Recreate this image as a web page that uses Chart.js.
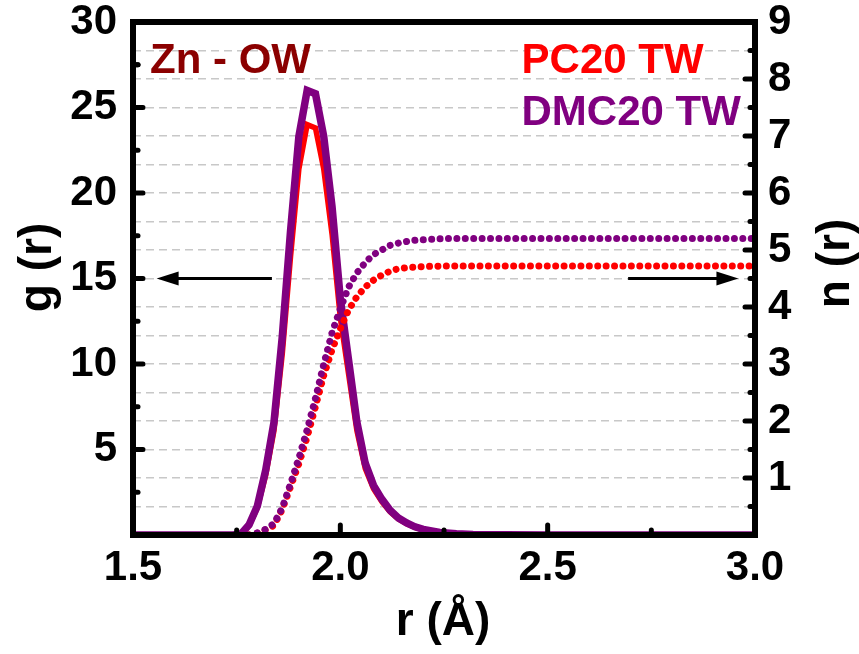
<!DOCTYPE html>
<html><head><meta charset="utf-8">
<script src="https://cdn.jsdelivr.net/npm/chart.js@4/dist/chart.umd.min.js"></script>
<style>html,body{margin:0;padding:0;background:#fff;}canvas{display:block;}</style>
</head><body>
<canvas id="c" width="859" height="654"></canvas>
<script>
// ---- data ----
const rG   = [1.50, 1.74, 1.76, 1.78, 1.80, 1.82, 1.84, 1.86, 1.88, 1.90, 1.92, 1.94, 1.96, 1.98, 2.00, 2.02, 2.04, 2.06, 2.08, 2.10, 2.12, 2.14, 2.16, 2.18, 2.20, 2.24, 2.28, 2.32, 2.40, 2.50, 3.00];
const gPC  = [0, 0, 0.04, 0.55, 1.6, 3.5, 6.1, 10.6, 16.3, 21.4, 24.0, 23.8, 21.4, 17.6, 12.7, 9.4, 6.1, 3.9, 2.7, 1.95, 1.35, 0.93, 0.65, 0.45, 0.30, 0.14, 0.06, 0.03, 0.01, 0, 0];
const gDMC = [0, 0, 0.05, 0.6, 1.7, 3.8, 6.6, 11.6, 17.8, 23.3, 26.0, 25.8, 23.3, 19.2, 13.8, 10.2, 6.6, 4.2, 2.9, 2.1, 1.45, 1.0, 0.70, 0.48, 0.33, 0.15, 0.07, 0.03, 0.01, 0, 0];
const rN   = [1.78, 1.80, 1.82, 1.84, 1.86, 1.88, 1.90, 1.92, 1.94, 1.96, 1.98, 2.00, 2.02, 2.04, 2.06, 2.08, 2.10, 2.12, 2.14, 2.16, 2.18, 2.20, 2.25, 2.30, 3.00];
const nPC  = [0, 0.03, 0.09, 0.17, 0.45, 0.85, 1.25, 1.72, 2.25, 2.8, 3.25, 3.62, 3.95, 4.18, 4.35, 4.47, 4.56, 4.63, 4.67, 4.69, 4.70, 4.71, 4.72, 4.72, 4.72];
const nDMC = [0, 0.04, 0.10, 0.20, 0.48, 0.9, 1.35, 1.85, 2.4, 3.0, 3.55, 3.97, 4.35, 4.6, 4.78, 4.92, 5.0, 5.08, 5.12, 5.15, 5.17, 5.18, 5.20, 5.20, 5.20];
const seriesNames = ['PC20 TW', 'DMC20 TW'];
const pairLabel = 'Zn - OW';
const xTicks = [1.5, 2.0, 2.5, 3.0];
const gTicks = [5, 10, 15, 20, 25, 30];
const nTicks = [1, 2, 3, 4, 5, 6, 7, 8, 9];
const xTitle = 'r (Å)';
const gTitle = 'g (r)';
const nTitle = 'n (r)';

// ---- styling ----
const FONT = "'Liberation Sans', Arial, sans-serif";
const RED = '#ff0000', PURPLE = '#800080', DARKRED = '#8b0000';
const pts = (xs, ys) => xs.map((x, i) => ({x: x, y: ys[i]}));
const half = arr => arr.map((v, i) => v - (i === 0 ? v : v - arr[i - 1]) / 2);

// annotation placement (data coordinates)
const arrows = [
  {axis: 'y',  value: 15,  from: 1.835, to: 1.557},
  {axis: 'y2', value: 4.5, from: 2.694, to: 2.96}
];
const labels = [
  {text: pairLabel,      color: DARKRED, x: 1.541, axis: 'y', y: 27.0},
  {text: seriesNames[0], color: RED,     x: 2.437, axis: 'y', y: 27.0},
  {text: seriesNames[1], color: PURPLE,  x: 2.437, axis: 'y', y: 23.97}
];

const overlay = {
  id: 'overlay',
  afterDatasetsDraw(chart) {
    const {ctx, chartArea: a, scales} = chart;
    const X = scales.x, Y = scales.y, Y2 = scales.y2;
    ctx.save();
    ctx.strokeStyle = '#000'; ctx.fillStyle = '#000';
    ctx.lineWidth = 6; ctx.lineJoin = 'miter';
    ctx.strokeRect(a.left, a.top, a.right - a.left, a.bottom - a.top);
    const seg = (x1, y1, x2, y2) => { ctx.beginPath(); ctx.moveTo(x1, y1); ctx.lineTo(x2, y2); ctx.stroke(); };
    ctx.lineWidth = 5; ctx.lineCap = 'round';
    const gMajor = gTicks.slice(0, -1), gMinor = half(gTicks).concat([gTicks[gTicks.length-1] - 2.5]);
    gMajor.forEach(v => { const y = Y.getPixelForValue(v); seg(a.left, y, a.left + 10, y); });
    gMinor.forEach(v => { const y = Y.getPixelForValue(v); seg(a.left, y, a.left + 5, y); });
    const nMajor = nTicks.slice(0, -1), nMinor = half(nTicks);
    nMajor.forEach(v => { const y = Y2.getPixelForValue(v); seg(a.right, y, a.right - 10, y); });
    nMinor.forEach(v => { const y = Y2.getPixelForValue(v); seg(a.right, y, a.right - 5, y); });
    const xMajor = xTicks.slice(1, -1);
    const xMinor = xTicks.slice(1).map((v, i) => (v + xTicks[i]) / 2);
    xMajor.forEach(v => { const x = X.getPixelForValue(v); seg(x, a.bottom, x, a.bottom - 10); });
    xMinor.forEach(v => { const x = X.getPixelForValue(v); seg(x, a.bottom, x, a.bottom - 5); });
    ctx.lineCap = 'butt'; ctx.lineWidth = 3;
    arrows.forEach(ar => {
      const y = scales[ar.axis].getPixelForValue(ar.value);
      const x1 = X.getPixelForValue(ar.from), x2 = X.getPixelForValue(ar.to);
      const d = Math.sign(x2 - x1), head = 22, hw = 7;
      seg(x1, y, x2 - d * head * 0.7, y);
      ctx.beginPath(); ctx.moveTo(x2, y); ctx.lineTo(x2 - d * head, y - hw); ctx.lineTo(x2 - d * head, y + hw); ctx.closePath(); ctx.fill();
    });
    ctx.font = 'bold 42px ' + FONT; ctx.textAlign = 'left'; ctx.textBaseline = 'alphabetic';
    labels.forEach(l => {
      ctx.fillStyle = l.color;
      ctx.fillText(l.text, X.getPixelForValue(l.x), scales[l.axis].getPixelForValue(l.y));
    });
    ctx.fillStyle = '#000'; ctx.font = 'bold 46px ' + FONT; ctx.textAlign = 'center';
    const midY = (a.top + a.bottom) / 2;
    ctx.fillText(xTitle, (a.left + a.right) / 2 - 1, a.bottom + 100);
    ctx.save(); ctx.translate(a.left - 82, midY - 11); ctx.rotate(-Math.PI / 2); ctx.fillText(gTitle, 0, 0); ctx.restore();
    ctx.save(); ctx.translate(a.right + 94, midY - 15); ctx.rotate(-Math.PI / 2); ctx.fillText(nTitle, 0, 0); ctx.restore();
    ctx.restore();
  }
};

const tickFont = {family: FONT, size: 42, weight: 'bold', lineHeight: 1.0};

new Chart(document.getElementById('c'), {
  type: 'line',
  data: {
    datasets: [
      {label: seriesNames[1] + ' n(r)', data: pts(rN, nDMC), yAxisID: 'y2', borderColor: PURPLE, borderWidth: 7,
       borderDash: [0.01, 8.4], borderCapStyle: 'round', pointRadius: 0, tension: 0, fill: false},
      {label: seriesNames[0] + ' n(r)', data: pts(rN, nPC), yAxisID: 'y2', borderColor: RED, borderWidth: 7,
       borderDash: [0.01, 8.4], borderCapStyle: 'round', pointRadius: 0, tension: 0, fill: false},
      {label: seriesNames[1] + ' g(r)', data: pts(rG, gDMC), yAxisID: 'y', borderColor: PURPLE, borderWidth: 7.5,
       pointRadius: 0, tension: 0, fill: false},
      {label: seriesNames[0] + ' g(r)', data: pts(rG, gPC), yAxisID: 'y', borderColor: RED, borderWidth: 5.5,
       pointRadius: 0, tension: 0, fill: false}
    ]
  },
  options: {
    responsive: false, animation: false, devicePixelRatio: 1,
    layout: {padding: {top: 22, left: 0, right: 0, bottom: 0}},
    plugins: {legend: {display: false}, tooltip: {enabled: false}},
    scales: {
      x: {
        type: 'linear', min: 1.5, max: 3.0,
        afterBuildTicks: s => { s.ticks = xTicks.map(v => ({value: v})); },
        ticks: {callback: v => Number(v).toFixed(1), font: tickFont, color: '#000', padding: 12, maxRotation: 0, autoSkip: false},
        grid: {display: false, drawTicks: false}, border: {display: false},
        afterFit: s => { s.height = 119; s.paddingLeft = 0; s.paddingRight = 0; }
      },
      y: {
        type: 'linear', position: 'left', min: 0, max: 30,
        afterBuildTicks: s => { s.ticks = gTicks.map(v => ({value: v})); },
        ticks: {font: tickFont, color: '#000', padding: 16, autoSkip: false},
        grid: {display: false, drawTicks: false}, border: {display: false},
        afterFit: s => { s.width = 133; s.paddingTop = 0; s.paddingBottom = 0; }
      },
      y2: {
        type: 'linear', position: 'right', min: 0, max: 9,
        afterBuildTicks: s => {
          const t = [];
          nTicks.forEach(v => { t.push({value: v - 0.5}); t.push({value: v}); });
          s.ticks = t;
        },
        ticks: {font: tickFont, color: '#000', padding: 13, autoSkip: false,
                callback: v => Number.isInteger(v) ? String(v) : ''},
        grid: {display: true, drawTicks: false, color: '#c8c8c8', lineWidth: 1.5},
        border: {display: false, dash: [8, 5]},
        afterFit: s => { s.width = 104; s.paddingTop = 0; s.paddingBottom = 0; }
      }
    }
  },
  plugins: [overlay]
});
</script>
</body></html>
